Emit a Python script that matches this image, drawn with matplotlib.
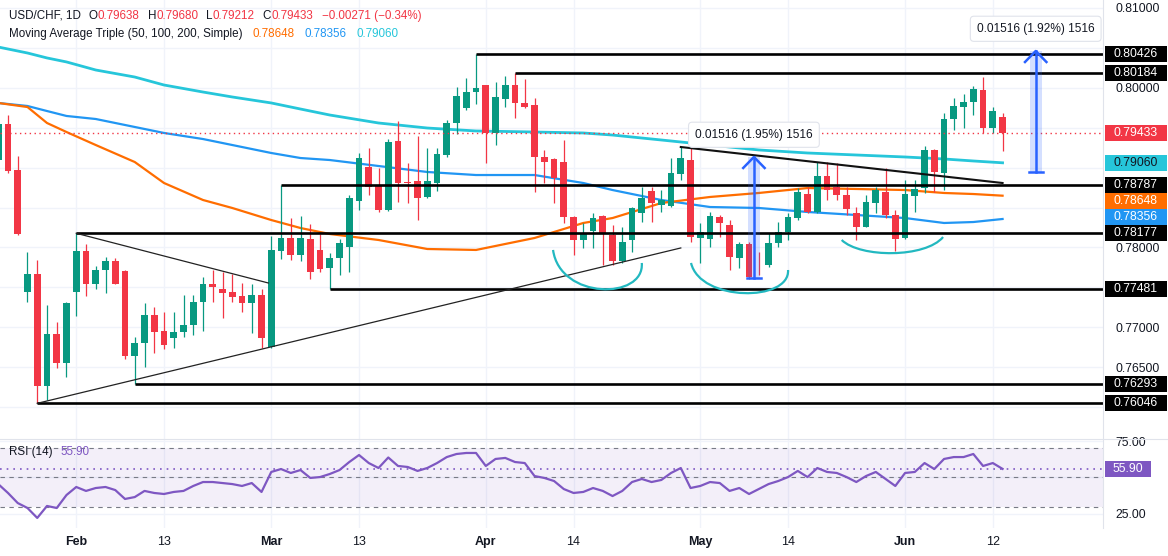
import numpy as np
import matplotlib
matplotlib.use("Agg")
import matplotlib.pyplot as plt
from matplotlib.path import Path
from matplotlib.patches import PathPatch, Rectangle
from matplotlib.lines import Line2D
from matplotlib.ticker import FuncFormatter

plt.rcParams['font.family'] = ['Liberation Sans', 'DejaVu Sans']

# USD/CHF daily candles (bar -1 is cut off at the left edge)
opens = [0.79095, 0.79546, 0.78970, 0.77441, 0.77667, 0.76264, 0.76915, 0.76552, 0.77441, 0.77955,
         0.77541, 0.77717, 0.77830, 0.77705, 0.76639, 0.76802, 0.77153, 0.76953, 0.76865, 0.76940,
         0.77028, 0.77316, 0.77541, 0.77479, 0.77441, 0.77391, 0.77303, 0.77404, 0.76752, 0.77955,
         0.78118, 0.77905, 0.78105, 0.77968, 0.77742, 0.77867, 0.78005, 0.78581, 0.79008, 0.78770,
         0.78469, 0.79333, 0.78820, 0.78832, 0.78632, 0.78807, 0.79158, 0.79559, 0.79747, 0.79947,
         0.80035, 0.79434, 0.79860, 0.80035, 0.79810, 0.79784, 0.79133, 0.79108, 0.79070, 0.78381,
         0.78093, 0.78206, 0.78394, 0.78155, 0.77830, 0.78093, 0.78431, 0.78707, 0.78531, 0.78519,
         0.78920, 0.79095, 0.78118, 0.78105, 0.78381, 0.78281, 0.77867, 0.78043, 0.77805, 0.77780,
         0.78055, 0.78193, 0.78368, 0.78669, 0.78444, 0.78895, 0.78757, 0.78657, 0.78431, 0.78256,
         0.78556, 0.78694, 0.78406, 0.78118, 0.78644, 0.78744, 0.79221, 0.78932, 0.79609, 0.79759,
         0.79822, 0.79972, 0.79496, 0.79638]
highs = [0.79622, 0.79659, 0.79145, 0.77943, 0.77842, 0.77278, 0.77066, 0.77316, 0.78177, 0.78043,
         0.77767, 0.77880, 0.77867, 0.77717, 0.76878, 0.77303, 0.77253, 0.77191, 0.77191, 0.77404,
         0.77404, 0.77629, 0.77717, 0.77692, 0.77667, 0.77554, 0.77541, 0.77479, 0.78143, 0.78787,
         0.78368, 0.78394, 0.78293, 0.78168, 0.77930, 0.78105, 0.78657, 0.79183, 0.79246, 0.78995,
         0.79358, 0.79584, 0.79058, 0.79396, 0.79246, 0.79246, 0.79596, 0.80010, 0.80123, 0.80426,
         0.80040, 0.80073, 0.80148, 0.80184, 0.80110, 0.79872, 0.79221, 0.79120, 0.79346, 0.78390,
         0.78306, 0.78431, 0.78406, 0.78281, 0.78256, 0.78506, 0.78757, 0.78757, 0.78719, 0.79120,
         0.79258, 0.79246, 0.78306, 0.78444, 0.78406, 0.78343, 0.78068, 0.78068, 0.77943, 0.78180,
         0.78318, 0.78431, 0.78744, 0.78757, 0.79070, 0.79070, 0.79058, 0.78757, 0.78506, 0.78657,
         0.78757, 0.78995, 0.78469, 0.78845, 0.78845, 0.79271, 0.79233, 0.79684, 0.79872, 0.79922,
         0.80022, 0.80135, 0.79759, 0.79680]
lows = [0.79008, 0.78932, 0.78160, 0.77316, 0.76046, 0.76088, 0.76489, 0.76376, 0.77141, 0.77391,
        0.77479, 0.77429, 0.77541, 0.76602, 0.76293, 0.76502, 0.76677, 0.76727, 0.76740, 0.76878,
        0.76903, 0.76953, 0.77316, 0.77116, 0.77316, 0.77191, 0.76928, 0.76740, 0.76740, 0.77855,
        0.77842, 0.77830, 0.77604, 0.77692, 0.77481, 0.77654, 0.77692, 0.78469, 0.78657, 0.78444,
        0.78456, 0.78569, 0.78556, 0.78343, 0.78619, 0.78707, 0.79133, 0.79421, 0.79722, 0.79797,
        0.79058, 0.79283, 0.79759, 0.79622, 0.79747, 0.78694, 0.78807, 0.78556, 0.78306, 0.77905,
        0.77993, 0.77993, 0.77780, 0.77780, 0.77805, 0.77943, 0.78318, 0.78318, 0.78444, 0.78506,
        0.78845, 0.78068, 0.77805, 0.78005, 0.78130, 0.77717, 0.77742, 0.77610, 0.77654, 0.77755,
        0.78005, 0.78093, 0.78343, 0.78431, 0.78431, 0.78594, 0.78594, 0.78406, 0.78093, 0.78250,
        0.78431, 0.78368, 0.77955, 0.78110, 0.78444, 0.78682, 0.78694, 0.78719, 0.79471, 0.79496,
        0.79659, 0.79434, 0.79434, 0.79212]
closes = [0.79546, 0.78957, 0.78168, 0.77667, 0.76264, 0.76915, 0.76552, 0.77303, 0.77955, 0.77541,
          0.77717, 0.77830, 0.77541, 0.76639, 0.76802, 0.77153, 0.76940, 0.76777, 0.76940, 0.77028,
          0.77316, 0.77541, 0.77504, 0.77429, 0.77378, 0.77303, 0.77404, 0.76865, 0.77968, 0.78118,
          0.77905, 0.78118, 0.77692, 0.77730, 0.77867, 0.78055, 0.78619, 0.79120, 0.78757, 0.78469,
          0.79321, 0.78807, 0.78807, 0.78619, 0.78832, 0.79170, 0.79559, 0.79897, 0.79947, 0.79997,
          0.79434, 0.79885, 0.80035, 0.79810, 0.79759, 0.79133, 0.79070, 0.78870, 0.78381, 0.78093,
          0.78180, 0.78368, 0.78180, 0.77830, 0.78068, 0.78494, 0.78619, 0.78556, 0.78594, 0.78932,
          0.79120, 0.78130, 0.78193, 0.78394, 0.78306, 0.77880, 0.78043, 0.77629, 0.77800, 0.78055,
          0.78193, 0.78381, 0.78694, 0.78444, 0.78895, 0.78719, 0.78657, 0.78481, 0.78256, 0.78569,
          0.78719, 0.78406, 0.78105, 0.78669, 0.78732, 0.79221, 0.78945, 0.79609, 0.79772, 0.79822,
          0.79985, 0.79496, 0.79704, 0.79433]
rsi = [45.5, 39.4, 32.5, 29.1, 22.3, 30.5, 29.1, 38.0, 43.5, 40.8,
       42.8, 43.5, 41.4, 35.3, 36.6, 40.8, 39.4, 38.7, 40.1, 40.8,
       44.2, 46.9, 46.9, 46.2, 45.5, 44.2, 46.2, 40.1, 53.8, 55.8,
       53.1, 55.1, 49.7, 50.3, 52.4, 55.1, 60.6, 65.4, 59.9, 56.5,
       63.7, 57.9, 57.2, 54.5, 56.5, 59.9, 64.0, 66.1, 66.8, 66.8,
       57.9, 62.7, 63.4, 60.6, 59.9, 51.0, 49.7, 47.6, 42.1, 39.4,
       40.1, 42.8, 40.8, 37.3, 40.8, 46.9, 49.0, 46.9, 48.3, 53.1,
       56.5, 42.8, 44.2, 46.9, 46.2, 40.8, 42.8, 38.7, 42.1, 45.5,
       47.6, 50.3, 54.5, 50.3, 56.5, 53.8, 53.1, 50.3, 46.9, 51.0,
       53.8, 49.0, 44.2, 53.1, 53.8, 59.9, 55.8, 62.7, 64.0, 64.0,
       66.1, 57.9, 59.9, 55.9]

# moving averages at these bars
ma_bars = [-1, 2, 4, 6, 9, 13, 16, 20, 23, 27, 30, 33, 38, 43, 48, 54, 59, 62, 67, 72, 77, 82, 87, 92, 96, 99, 102]
ma50 = [0.79810, 0.79759, 0.79559, 0.79446, 0.79283, 0.79070, 0.78807, 0.78594, 0.78494, 0.78343,
        0.78243, 0.78168, 0.78093, 0.77980, 0.77968, 0.78118, 0.78306, 0.78368, 0.78556, 0.78632,
        0.78682, 0.78744, 0.78732, 0.78719, 0.78682, 0.78669, 0.78648]
ma100 = [0.79810, 0.79772, 0.79709, 0.79647, 0.79609, 0.79509, 0.79434, 0.79358, 0.79283, 0.79183,
         0.79120, 0.79095, 0.79020, 0.78945, 0.78907, 0.78907, 0.78807, 0.78719, 0.78594, 0.78506,
         0.78494, 0.78444, 0.78406, 0.78368, 0.78306, 0.78318, 0.78356]
ma200 = [0.80511, 0.80436, 0.80374, 0.80324, 0.80223, 0.80135, 0.80035, 0.79947, 0.79885, 0.79810,
         0.79734, 0.79659, 0.79559, 0.79496, 0.79459, 0.79446, 0.79434, 0.79408, 0.79346, 0.79283,
         0.79221, 0.79183, 0.79158, 0.79133, 0.79108, 0.79083, 0.79060]

# drawings
levels = [0.80426, 0.80184, 0.78787, 0.78177, 0.77481, 0.76293, 0.76046]
level_from = [48, 52, 28, 7, 33, 13, 3]
tri_up_bars, tri_up_px = [7, 26.7], [0.78177, 0.77554]
tri_lo_bars, tri_lo_px = [3, 69], [0.76046, 0.77993]
fall_bars, fall_px = [69, 102], [0.79258, 0.78807]
cup_bars = [[55.9, 56.6, 65.3, 65.0], [70.05, 71.0, 80.2, 80.0], [85.5, 87.4, 94.1, 95.9]]
cup_px = [[0.77968, 0.77341, 0.77341, 0.77805], [0.77805, 0.77316, 0.77316, 0.77717],
          [0.78093, 0.77867, 0.77867, 0.78130]]
meas_bar = [76.5, 105.4]
meas_lo = [0.77617, 0.78945]
meas_hi = [0.79133, 0.80461]
meas_text = ["0.01516 (1.95%) 1516", "0.01516 (1.92%) 1516"]

date_pos = [7, 16, 27, 36, 49, 58, 71, 80, 92, 101]
date_lab = ['Feb', '13', 'Mar', '13', 'Apr', '14', 'May', '14', 'Jun', '12']

UP, DOWN, DARK = '#089981', '#f23645', '#131722'
C50, C100, C200, PURPLE = '#ff6d00', '#2196f3', '#26c6da', '#7e57c2'
GRID = '#f0f3fa'

W, H = 1168, 556
fig = plt.figure(figsize=(W / 100, H / 100), dpi=100)
ax = fig.add_axes([0, 1 - 439 / H, 1103 / W, 439 / H])
axr = fig.add_axes([0, 1 - 528 / H, 1103 / W, 89 / H], sharex=ax)

ax.set_xlim(-0.82, 112.3)
ax.set_ylim(0.755991, 0.811002)
axr.set_ylim(15.41, 76.37)
ppx = (0.811002 - 0.755991) / 439.0   # price per pixel
rpx = (76.37 - 15.41) / 89.0

# right-hand price tags; indicator tags slide off the fixed ones like TradingView does
fixed = [(lv, 'black', 'white') for lv in levels] + [(closes[-1], DOWN, 'white')]
movable = [(ma200[-1], C200, DARK), (ma50[-1], C50, 'white'), (ma100[-1], C100, 'white')]
placed = [(p, p, fc, tc) for p, fc, tc in fixed]
for p, fc, tc in movable:
    shown = p
    for _ in range(6):
        hit = [q for q, *_ in placed if abs(q - shown) < 16.5 * ppx]
        if not hit:
            break
        q = hit[0]
        shown = q - 16.5 * ppx if shown > q else q + 16.5 * ppx
    placed.append((shown, p, fc, tc))

hidden = [p for p in np.arange(0.760, 0.8101, 0.005)
          if any(abs(p - s) < 12 * ppx for s, *_ in placed)]

for a in (ax, axr):
    for s in a.spines.values():
        s.set_visible(False)
    a.set_xticks(date_pos)
    a.grid(True, color=GRID, lw=1, zorder=0)
    a.set_axisbelow(True)
    a.yaxis.tick_right()
    a.tick_params(length=0, labelsize=8.8, labelcolor=DARK)

ax.tick_params(axis='x', labelbottom=False)
ax.tick_params(axis='y', pad=9)
ax.set_yticks(np.arange(0.760, 0.8101, 0.005))
ax.yaxis.set_major_formatter(FuncFormatter(
    lambda v, _: '' if any(abs(v - hv) < 1e-7 for hv in hidden) else f'{v:.5f}'))
axr.set_yticks([25, 50, 75])
axr.yaxis.set_major_formatter(FuncFormatter(
    lambda v, _: '' if abs(v - rsi[-1]) < 12 * rpx else f'{v:.2f}'))
axr.tick_params(axis='y', pad=9)
axr.tick_params(axis='x', pad=6, labelsize=9)
axr.set_xticklabels(date_lab)
for t in axr.get_xticklabels():
    if not t.get_text().isdigit():
        t.set_fontweight('bold')

# moving averages
ax.plot(ma_bars, ma200, color=C200, lw=2, zorder=2)
ax.plot(ma_bars, ma100, color=C100, lw=1.6, zorder=2)
ax.plot(ma_bars, ma50, color=C50, lw=1.6, zorder=2)

# candles
bars = np.arange(-1, len(opens) - 1)
o, h, l, c = map(np.array, (opens, highs, lows, closes))
col = np.where(c >= o, UP, DOWN)
ax.vlines(bars, l, h, colors=col, lw=0.9, zorder=3)
ax.bar(bars, np.maximum(np.abs(c - o), 0.00004), bottom=np.minimum(o, c),
       width=0.7, color=col, zorder=3.5)

# horizontal levels and trend lines
for lv, b0 in zip(levels, level_from):
    ax.plot([b0, 112.3], [lv, lv], color='black', lw=1.9, zorder=5, solid_capstyle='butt')
ax.plot(tri_up_bars, tri_up_px, color='#222', lw=0.9, zorder=5)
ax.plot(tri_lo_bars, tri_lo_px, color='#222', lw=0.9, zorder=5)
ax.plot(fall_bars, fall_px, color='#111', lw=1.5, zorder=5)
for cb, cp in zip(cup_bars, cup_px):
    path = Path(list(zip(cb, cp)), [Path.MOVETO, Path.CURVE4, Path.CURVE4, Path.CURVE4])
    ax.add_patch(PathPatch(path, fill=False, ec='#22b8c0', lw=1.6, zorder=5))

# last price line
ax.axhline(closes[-1], color=DOWN, lw=1, ls=(0, (1, 2.5)), zorder=4)

# price range measurements
for b, lo, hi, txt in zip(meas_bar, meas_lo, meas_hi, meas_text):
    ax.add_patch(Rectangle((b - 0.6, lo), 1.2, hi - lo, fc='#2962ff', alpha=0.2, ec='none', zorder=6))
    ax.plot([b, b], [lo, hi], color='#2962ff', lw=1.8, zorder=7)
    ax.plot([b - 1.1, b, b + 1.1], [hi - 11 * ppx, hi, hi - 11 * ppx], color='#2962ff', lw=1.8, zorder=7)
    ax.plot([b - 0.7, b + 0.7], [lo, lo], color='#2962ff', lw=1.8, zorder=7)
    ax.annotate(txt, (b, hi), xytext=(0, 16), textcoords='offset points', ha='center', va='center',
                fontsize=8.6, color=DARK, zorder=8, annotation_clip=False,
                bbox=dict(boxstyle='round,pad=0.55,rounding_size=0.3', fc='white', ec='#e0e3eb', lw=0.8))

# RSI panel
axr.axhspan(30, 70, color=PURPLE, alpha=0.09, lw=0, zorder=1)
for lv in (70, 50, 30):
    axr.axhline(lv, color='#787b86', lw=0.8, ls=(0, (4, 4)), zorder=2)
axr.axhline(rsi[-1], color=PURPLE, lw=1.2, ls=(0, (1, 3)), zorder=2)
axr.plot(bars, rsi, color=PURPLE, lw=1.6, zorder=3)


def tag(a, y, text, fc, tc, wpx=62):
    y0, y1 = a.get_ylim()
    half = 8 / a.bbox.height * (y1 - y0)
    tr = a.get_yaxis_transform()
    x0 = 1 + 1.5 / a.bbox.width
    a.add_patch(Rectangle((x0, y - half), wpx / a.bbox.width, 2 * half, transform=tr,
                          fc=fc, ec='none', clip_on=False, zorder=20))
    a.text(x0 + wpx / 2 / a.bbox.width, y, text, transform=tr, ha='center', va='center',
           color=tc, fontsize=8.8, clip_on=False, zorder=21)


for shown, p, fc, tc in placed:
    tag(ax, shown, f'{p:.5f}', fc, tc)
tag(axr, rsi[-1], f'{rsi[-1]:.2f}', PURPLE, 'white', wpx=46)

# separators
fig.add_artist(Line2D([0, 1], [1 - 439 / H] * 2, color='#e0e3eb', lw=0.8))
fig.add_artist(Line2D([1103 / W] * 2, [1 - 528 / H, 1], color='#e0e3eb', lw=0.8))

# header legends
rend = fig.canvas.get_renderer()


def runs(x, y, parts, size=8.4):
    for s, colr, gap in parts:
        t = fig.text(x / W, 1 - y / H, s, color=colr, fontsize=size, ha='left', va='center')
        x += t.get_window_extent(rend).width + gap


chg = closes[-1] - closes[-2]
pct = chg / closes[-2] * 100
runs(9, 16, [("USD/CHF, 1D", DARK, 8), ("O", DARK, 0), (f"{opens[-1]:.5f}", DOWN, 8),
             ("H", DARK, 0), (f"{highs[-1]:.5f}", DOWN, 8), ("L", DARK, 0), (f"{lows[-1]:.5f}", DOWN, 8),
             ("C", DARK, 0), (f"{closes[-1]:.5f}", DOWN, 9),
             (f"{chg:+.5f} ({pct:+.2f}%)".replace('-', '\u2212'), DOWN, 0)])
runs(9, 34, [("Moving Average Triple (50, 100, 200, Simple)", DARK, 10), (f"{ma50[-1]:.5f}", C50, 10),
             (f"{ma100[-1]:.5f}", C100, 10), (f"{ma200[-1]:.5f}", C200, 0)])
runs(9, 452, [("RSI (14)", DARK, 8), (f"{rsi[-1]:.2f}", PURPLE, 0)])

fig.savefig('out.png', dpi=100, facecolor='white')
